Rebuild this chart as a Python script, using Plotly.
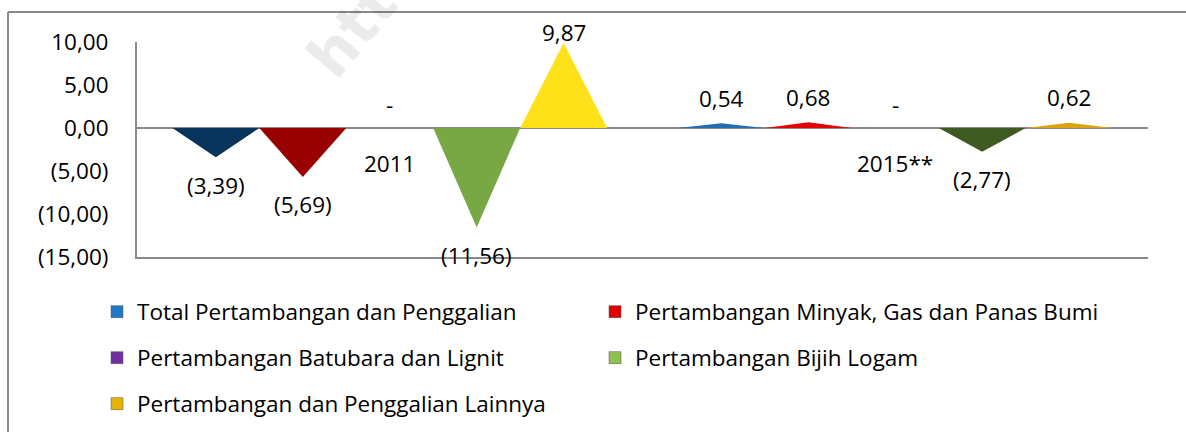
import plotly.graph_objects as go

# ---------------- data ----------------
categories = ["2011", "2015**"]
series_names = [
    "Total Pertambangan dan Penggalian",
    "Pertambangan Minyak, Gas dan Panas Bumi",
    "Pertambangan Batubara dan Lignit",
    "Pertambangan Bijih Logam",
    "Pertambangan dan Penggalian Lainnya",
]
values_2011 = [-3.39, -5.69, 0.0, -11.56, 9.87]
values_2015 = [0.54, 0.68, 0.0, -2.77, 0.62]
y_tickvals = [10, 5, 0, -5, -10, -15]
y_ticktext = ["10,00", "5,00", "0,00", "(5,00)", "(10,00)", "(15,00)"]

# ---------------- style ----------------
W, H = 1186, 432
M_L, M_R, M_T, M_B = 137, 38, 42, 175
PLOT_W, PLOT_H = W - M_L - M_R, H - M_T - M_B
Y_MIN, Y_MAX = -15, 10
PX_PER_UNIT = PLOT_H / (Y_MAX - Y_MIN)
SLOT = 0.172  # width of one triangle (in category units)
FONT = "Open Sans"
FS = 22.5
TXT = "#000000"
GRAY = "#8a8a8a"

point_colors = {
    "2011": ["#07345a", "#990000", "#7030a0", "#77a843", "#ffe11a"],
    "2015**": ["#1f6eb5", "#e30000", "#7030a0", "#3d5a22", "#dca20f"],
}
legend_colors = ["#1f78c8", "#e00000", "#7030a0", "#92c050", "#e6b400"]
# legend slot (pixel x of left edge, pixel y of row centre) for each series
legend_slots = [(97, 312), (595, 312), (97, 358), (595, 358), (97, 404)]

values_by_cat = {"2011": values_2011, "2015**": values_2015}


def fmt(v):
    if v == 0:
        return "-"
    s = f"{abs(v):.2f}".replace(".", ",")
    return f"({s})" if v < 0 else s


def px_x(p):
    return (p - M_L) / PLOT_W


def px_y(p):
    return (M_T + PLOT_H - p) / PLOT_H


fig = go.Figure()
annotations = []
n = len(series_names)
for ci, cat in enumerate(categories):
    vals = values_by_cat[cat]
    for si in range(n):
        v = vals[si]
        xc = ci + (si - (n - 1) / 2) * SLOT
        fig.add_trace(go.Scatter(
            x=[xc - SLOT / 2, xc, xc + SLOT / 2, xc - SLOT / 2],
            y=[0, v, 0, 0],
            mode="none", fill="toself",
            fillcolor=point_colors[cat][si],
            showlegend=False, hoverinfo="skip",
        ))
        # data label
        if v > 0:
            apex = v * PX_PER_UNIT
            center = min(apex + 25, (Y_MAX * PX_PER_UNIT) + 10)
            ys = center - apex
        elif v < 0:
            ys = -28
        else:
            ys = 24
        annotations.append(dict(
            x=xc, y=v, xref="x", yref="y", text=fmt(v), showarrow=False,
            xanchor="center", yanchor="middle", yshift=ys,
            font=dict(family=FONT, size=FS, color=TXT),
        ))
    # category label next to the zero line
    annotations.append(dict(
        x=ci, y=0, xref="x", yref="y", text=cat, showarrow=False,
        xanchor="center", yanchor="middle", yshift=-35,
        font=dict(family=FONT, size=FS, color=TXT),
    ))

# legend entries (one legend box per entry, laid out in two columns)
legend_layout = {}
for si, name in enumerate(series_names):
    key = "legend" if si == 0 else f"legend{si + 1}"
    fig.add_trace(go.Bar(
        x=[None], y=[None], name=name,
        marker=dict(color=legend_colors[si], line=dict(color="#555555", width=0.5)),
        legend=key, showlegend=True,
    ))
    lx, ly = legend_slots[si]
    legend_layout[key] = dict(
        x=px_x(lx), y=px_y(ly), orientation="h", xanchor="left", yanchor="middle",
        font=dict(family=FONT, size=FS, color=TXT),
        bgcolor="rgba(0,0,0,0)", borderwidth=0, itemclick=False,
    )

# watermark
annotations.append(dict(
    x=px_x(352), y=px_y(30), xref="paper", yref="paper",
    xanchor="center", yanchor="middle",
    text="<b>htt</b>", showarrow=False, textangle=-50,
    font=dict(family="DejaVu Sans", size=60, color="rgba(0,0,0,0.08)"),
))

shapes = [
    # outer chart border (top and left)
    dict(type="line", xref="paper", yref="paper", x0=px_x(8), x1=px_x(W + 5),
         y0=px_y(12), y1=px_y(12), line=dict(color=GRAY, width=2)),
    dict(type="line", xref="paper", yref="paper", x0=px_x(8), x1=px_x(8),
         y0=px_y(12), y1=px_y(H + 5), line=dict(color=GRAY, width=2)),
]

fig.update_layout(
    width=W, height=H,
    margin=dict(l=M_L, r=M_R, t=M_T, b=M_B, autoexpand=False),
    paper_bgcolor="white", plot_bgcolor="white",
    showlegend=True,
    xaxis=dict(range=[-0.5, 1.5], showgrid=False, zeroline=False,
               showticklabels=False, showline=True, linecolor=GRAY, linewidth=2,
               ticks=""),
    yaxis=dict(range=[Y_MIN, Y_MAX], tickvals=y_tickvals, ticktext=y_ticktext,
               showgrid=False, zeroline=True, zerolinecolor=GRAY, zerolinewidth=2,
               showline=True, linecolor=GRAY, linewidth=2, ticks="",
               ticklabelstandoff=22,
               tickfont=dict(family=FONT, size=FS, color=TXT)),
    annotations=annotations,
    shapes=shapes,
    font=dict(family=FONT, size=FS, color=TXT),
    **legend_layout,
)

fig.write_html("out.html",
               config={"displayModeBar": False},
               post_script="document.body.style.margin='0';document.body.style.overflow='hidden';")
